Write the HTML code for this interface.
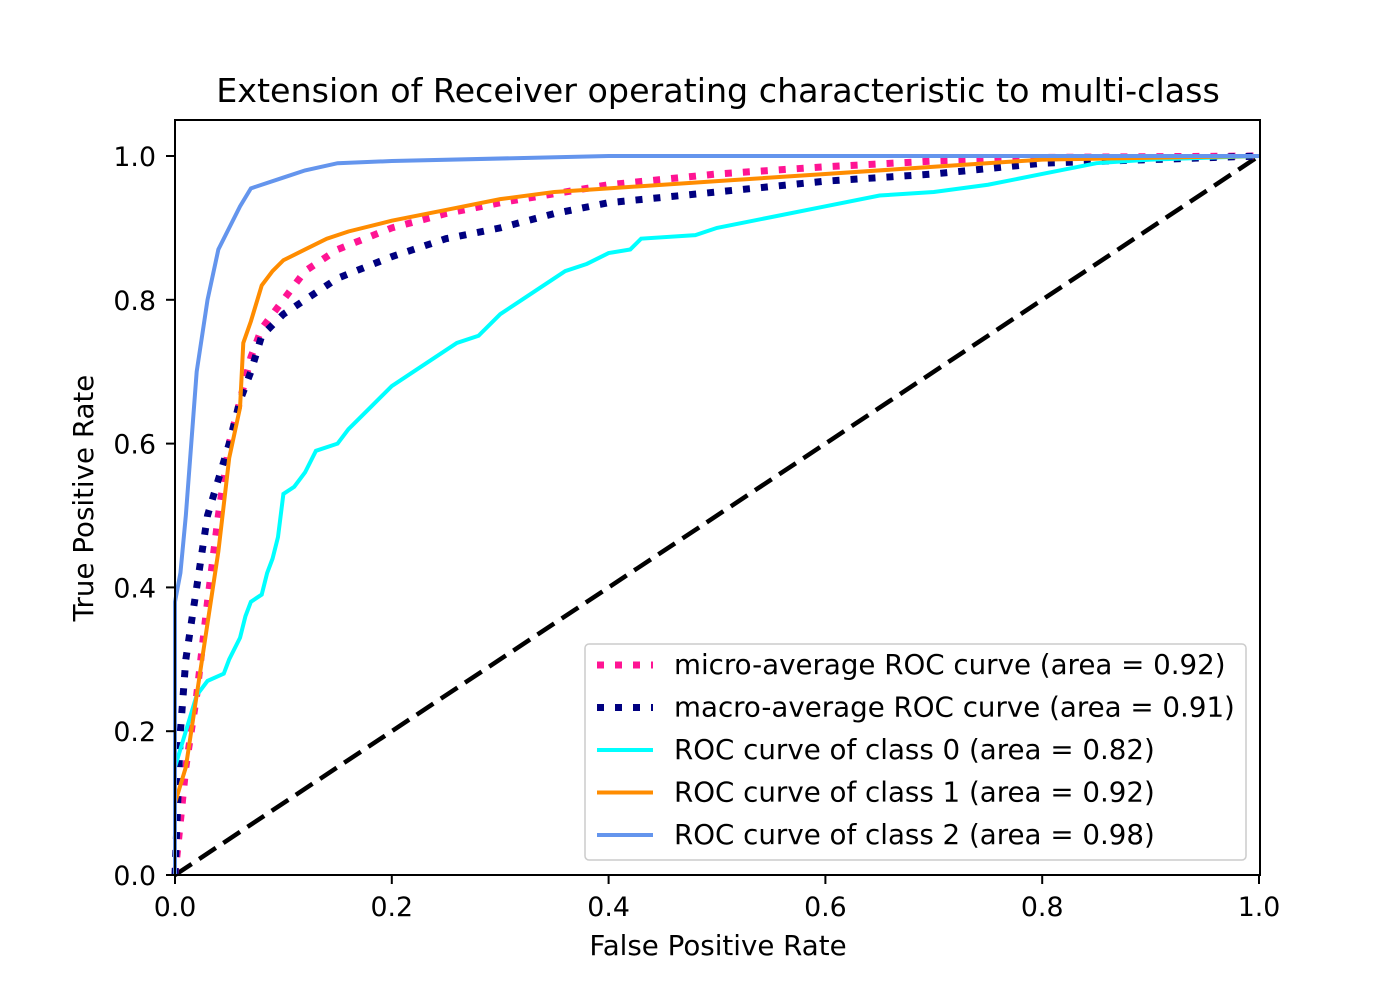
<!DOCTYPE html>
<html><head><meta charset="utf-8"><style>
body{margin:0;background:#fff}
svg text{font-family:"DejaVu Sans","Liberation Sans",sans-serif;fill:#000}
</style></head><body>
<svg id="chart" width="1400" height="1000">
<rect width="1400" height="1000" fill="#fff"/>
<text x="718" y="102" font-size="33.3" text-anchor="middle">Extension of Receiver operating characteristic to multi-class</text>
<g id="plot"></g>
<g id="axes"></g>
<text x="718" y="955" font-size="27.7" text-anchor="middle">False Positive Rate</text>
<text transform="translate(93,498) rotate(-90)" font-size="27.7" text-anchor="middle">True Positive Rate</text>
<g id="legend"></g>
</svg>
<script>
const xTicks=[0,0.2,0.4,0.6,0.8,1.0];
const yTicks=[0,0.2,0.4,0.6,0.8,1.0];
const microFpr=[0,0.01,0.02,0.03,0.04,0.05,0.06,0.07,0.08,0.1,0.12,0.15,0.2,0.25,0.3,0.4,0.5,0.6,0.7,0.8,1];
const microTpr=[0,0.15,0.25,0.38,0.5,0.6,0.66,0.72,0.76,0.8,0.84,0.87,0.9,0.92,0.935,0.96,0.975,0.985,0.993,0.998,1];
const macroFpr=[0,0.005,0.01,0.02,0.03,0.04,0.05,0.06,0.07,0.08,0.1,0.12,0.15,0.2,0.25,0.3,0.35,0.4,0.5,0.6,0.7,0.8,1];
const macroTpr=[0,0.2,0.3,0.4,0.5,0.55,0.6,0.66,0.7,0.75,0.78,0.8,0.83,0.86,0.885,0.9,0.92,0.935,0.95,0.965,0.975,0.99,1];
const c0Fpr=[0,0,0.01,0.02,0.03,0.045,0.05,0.06,0.065,0.07,0.08,0.085,0.09,0.095,0.1,0.11,0.12,0.13,0.15,0.16,0.18,0.2,0.22,0.24,0.26,0.28,0.3,0.32,0.34,0.36,0.38,0.4,0.42,0.43,0.48,0.5,0.55,0.6,0.65,0.7,0.75,0.8,0.85,0.9,1];
const c0Tpr=[0,0.15,0.2,0.25,0.27,0.28,0.3,0.33,0.36,0.38,0.39,0.42,0.44,0.47,0.53,0.54,0.56,0.59,0.6,0.62,0.65,0.68,0.7,0.72,0.74,0.75,0.78,0.8,0.82,0.84,0.85,0.865,0.87,0.885,0.89,0.9,0.915,0.93,0.945,0.95,0.96,0.975,0.99,0.995,1];
const c1Fpr=[0,0,0.01,0.02,0.03,0.04,0.05,0.06,0.063,0.07,0.08,0.09,0.1,0.12,0.14,0.16,0.2,0.25,0.3,0.35,0.4,0.5,0.6,0.7,0.8,1];
const c1Tpr=[0,0.1,0.15,0.25,0.35,0.45,0.58,0.65,0.74,0.77,0.82,0.84,0.855,0.87,0.885,0.895,0.91,0.925,0.94,0.95,0.955,0.965,0.975,0.985,0.995,1];
const c2Fpr=[0,0,0.005,0.01,0.015,0.02,0.03,0.04,0.05,0.06,0.07,0.08,0.1,0.12,0.15,0.2,0.4,1];
const c2Tpr=[0,0.38,0.42,0.5,0.6,0.7,0.8,0.87,0.9,0.93,0.955,0.96,0.97,0.98,0.99,0.993,1,1];
const labels=["micro-average ROC curve (area = 0.92)","macro-average ROC curve (area = 0.91)","ROC curve of class 0 (area = 0.82)","ROC curve of class 1 (area = 0.92)","ROC curve of class 2 (area = 0.98)"];

const NS="http://www.w3.org/2000/svg";
const X0=175,X1=1259,Y0=875,Y1=156;
const sx=v=>X0+(X1-X0)*v, sy=v=>Y0-(Y0-Y1)*v;
function mk(tag,attrs,parent){const e=document.createElementNS(NS,tag);for(const k in attrs)e.setAttribute(k,attrs[k]);parent.appendChild(e);return e;}
const plot=document.getElementById('plot'),axes=document.getElementById('axes'),leg=document.getElementById('legend');
const series=[
 {x:microFpr,y:microTpr,c:"deeppink",w:7,d:"7 11",n:"micro-average-curve"},
 {x:macroFpr,y:macroTpr,c:"navy",w:7,d:"7 11",n:"macro-average-curve"},
 {x:c0Fpr,y:c0Tpr,c:"aqua",w:4,d:"",n:"class-0-curve"},
 {x:c1Fpr,y:c1Tpr,c:"darkorange",w:4,d:"",n:"class-1-curve"},
 {x:c2Fpr,y:c2Tpr,c:"cornflowerblue",w:4,d:"",n:"class-2-curve"}];
const diag=mk('line',{x1:sx(0),y1:sy(0),x2:sx(1),y2:sy(1),stroke:"#000","stroke-width":4.5,"stroke-dasharray":"20 9"},plot);


series.forEach(s=>{
 const p=mk('polyline',{points:s.x.map((v,i)=>sx(v)+","+sy(s.y[i])).join(" "),fill:"none",stroke:s.c,"stroke-width":s.w,"stroke-dasharray":s.d},plot);
 
 
});
const frame=mk('rect',{x:X0,y:120,width:X1-X0+1,height:Y0-120,fill:"none",stroke:"#000","stroke-width":2},axes);


xTicks.forEach(t=>{
 mk('line',{x1:sx(t),y1:Y0,x2:sx(t),y2:Y0+9,stroke:"#000","stroke-width":2},axes);
 const tx=mk('text',{x:sx(t),y:Y0+41,"font-size":26.8,"text-anchor":"middle"},axes);tx.textContent=t.toFixed(1);
 
 
});
yTicks.forEach(t=>{
 mk('line',{x1:X0-9,y1:sy(t),x2:X0,y2:sy(t),stroke:"#000","stroke-width":2},axes);
 const tx=mk('text',{x:X0-19,y:sy(t)+10,"font-size":26.8,"text-anchor":"end"},axes);tx.textContent=t.toFixed(1);
 
 
});
const box=mk('rect',{x:585,y:644,width:661,height:216,rx:4,fill:"#fff","fill-opacity":0.8,stroke:"#ccc","stroke-width":1.5},leg);


labels.forEach((l,i)=>{
 const y=665+i*42.5,s=series[i];
 mk('line',{x1:597,y1:y,x2:653,y2:y,stroke:s.c,"stroke-width":s.w,"stroke-dasharray":s.d},leg);
 const tx=mk('text',{x:674,y:y+9,"font-size":27.7},leg);tx.textContent=l;
 
 
});
</script>
</body></html>
